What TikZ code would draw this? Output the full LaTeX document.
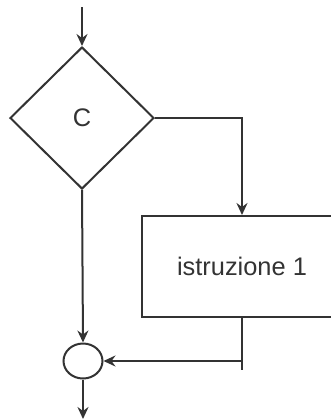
\documentclass[tikz,border=0pt]{standalone}
\usepackage{fontspec}
\setmainfont{Liberation Sans}
\usetikzlibrary{shapes.geometric,arrows.meta}
\begin{document}
\begin{tikzpicture}[x=0.5pt,y=-0.5pt,line width=1pt,color=black!80,
    >={Stealth[length=6pt,width=5.5pt,inset=2pt]},
    font=\fontsize{12.7}{15}\selectfont]
            \clip (0,0) rectangle (331,419);
            \node [diamond,draw,minimum width=72pt,minimum height=71pt,inner sep=0pt] (cond) at (82,118) {C};
            \node [draw,minimum width=100pt,minimum height=50.5pt,inner sep=0pt] (istr) at (242,266.5) {istruzione 1};
            \node [ellipse,draw,minimum width=19.5pt,minimum height=17.5pt,inner sep=0pt] (join) at (83,361) {};
            \coordinate (start) at (82,7);
            \coordinate (tail) at (242,370);
            \coordinate (end) at (83,419);
            \draw [->] (start) -- (cond.north);
            \draw [->] (cond.east) -| (istr.north);
            \draw (istr.south) -- (tail);
            \draw [->] (istr.south |- join.east) -- (join.east);
            \draw [->] (cond.south) -- (join.north);
            \draw [->] (join.south) -- (end);
\end{tikzpicture}
\end{document}
